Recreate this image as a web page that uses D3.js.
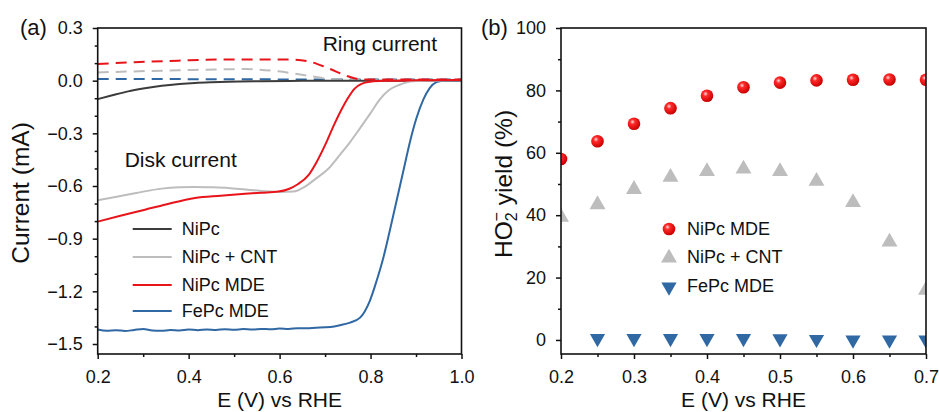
<!DOCTYPE html>
<html>
<head>
<meta charset="utf-8">
<script src="https://cdn.jsdelivr.net/npm/d3@7"></script>
<style>
  html, body { margin: 0; padding: 0; background: #fff; }
  text { font-family: "Liberation Sans", Arial, sans-serif; fill: #111; }
</style>
</head>
<body>
<svg id="chart" width="939" height="412"></svg>
<script>
// ---- panel (a): RRDE disk / ring currents, [E (V), I (mA)] ----
var niPcDisk = [[0.2,-0.105],[0.23,-0.085],[0.267,-0.061],[0.3,-0.045],[0.341,-0.029],[0.38,-0.019],
  [0.414,-0.013],[0.45,-0.009],[0.487,-0.006],[0.56,-0.003],[0.65,-0.001],[0.8,0],[1.0,0]];
var cntDisk = [[0.2,-0.681],[0.233,-0.665],[0.267,-0.649],[0.3,-0.632],[0.341,-0.615],[0.38,-0.607],
  [0.414,-0.605],[0.45,-0.607],[0.487,-0.611],[0.525,-0.62],[0.56,-0.628],[0.6,-0.634],[0.63,-0.632],
  [0.655,-0.605],[0.681,-0.555],[0.706,-0.505],[0.733,-0.421],[0.755,-0.35],[0.777,-0.27],[0.8,-0.185],
  [0.82,-0.108],[0.84,-0.055],[0.864,-0.023],[0.893,-0.003],[0.93,0],[1.0,0.002]];
var mdeDisk = [[0.2,-0.803],[0.25,-0.77],[0.304,-0.735],[0.35,-0.705],[0.414,-0.668],[0.47,-0.655],
  [0.524,-0.644],[0.56,-0.638],[0.597,-0.632],[0.62,-0.617],[0.64,-0.59],[0.663,-0.54],[0.68,-0.47],
  [0.703,-0.35],[0.72,-0.25],[0.735,-0.17],[0.75,-0.1],[0.765,-0.045],[0.78,-0.018],[0.8,-0.006],
  [0.83,-0.001],[0.9,0.002],[1.0,0.004]];
var fePcDisk = [[0.2,-1.418],[0.22,-1.425],[0.24,-1.421],[0.26,-1.426],[0.28,-1.42],[0.3,-1.414],
  [0.32,-1.423],[0.34,-1.425],[0.36,-1.42],[0.38,-1.423],[0.4,-1.418],[0.42,-1.421],[0.44,-1.417],
  [0.46,-1.42],[0.48,-1.416],[0.5,-1.419],[0.52,-1.415],[0.54,-1.418],[0.56,-1.414],[0.58,-1.416],
  [0.6,-1.412],[0.62,-1.414],[0.64,-1.41],[0.66,-1.411],[0.68,-1.407],[0.7,-1.405],[0.72,-1.4],
  [0.733,-1.393],[0.755,-1.378],[0.777,-1.35],[0.798,-1.257],[0.813,-1.143],[0.828,-1.01],[0.842,-0.858],
  [0.857,-0.687],[0.872,-0.516],[0.887,-0.345],[0.901,-0.213],[0.916,-0.108],[0.93,-0.042],
  [0.945,-0.008],[0.96,0],[1.0,0.002]];
var mdeRing = [[0.2,0.095],[0.28,0.105],[0.377,0.114],[0.487,0.121],[0.619,0.121],[0.663,0.11],
  [0.706,0.072],[0.75,0.025],[0.78,0.007],[0.85,0.006],[1.0,0.007]];
var cntRing = [[0.2,0.047],[0.377,0.059],[0.524,0.066],[0.597,0.053],[0.671,0.025],[0.722,0.006],
  [0.8,0.004],[1.0,0.005]];
var fePcRing = [[0.2,0.01],[0.5,0.008],[0.8,0.006],[1.0,0.006]];

// ---- panel (b): HO2- yield (%) ----
var yieldE     = [0.2, 0.25, 0.3, 0.35, 0.4, 0.45, 0.5, 0.55, 0.6, 0.65, 0.7];
var yieldMde   = [58.0, 63.7, 69.3, 74.3, 78.3, 81.0, 82.5, 83.2, 83.4, 83.5, 83.4];
var yieldCnt   = [39.4, 43.4, 48.3, 52.2, 54.0, 54.8, 54.0, 50.9, 44.1, 31.4, 16.0];
var yieldFePc  = [null, 0.5, 0.5, 0.5, 0.5, 0.5, 0.4, 0.2, 0.0, 0.0, 0.0];

// ticks
var aXTicks = [0.2, 0.4, 0.6, 0.8, 1.0], aXMinor = [0.3, 0.5, 0.7, 0.9];
var aYTicks = [0.3, 0.0, -0.3, -0.6, -0.9, -1.2, -1.5];
var aYMinor = [0.2, 0.1, -0.1, -0.2, -0.4, -0.5, -0.7, -0.8, -1.0, -1.1, -1.3, -1.4];
var bXTicks = [0.2, 0.3, 0.4, 0.5, 0.6, 0.7], bXMinor = [0.25, 0.35, 0.45, 0.55, 0.65];
var bYTicks = [0, 20, 40, 60, 80, 100], bYMinor = [10, 30, 50, 70, 90];

var RED = '#e8141a', BLUE = '#2f68a3', GRAY = '#bdbdbd', DARK = '#3c3c3c';

var svg = d3.select('#chart');

// red sphere gradient
var defs = svg.append('defs');
var grad = defs.append('radialGradient').attr('id', 'sphere')
  .attr('cx', '38%').attr('cy', '35%').attr('r', '65%');
grad.append('stop').attr('offset', '0%').attr('stop-color', '#ffe0e0');
grad.append('stop').attr('offset', '30%').attr('stop-color', '#ff2a2a');
grad.append('stop').attr('offset', '100%').attr('stop-color', '#c80000');

// draws the frame + axes of a panel
//- - - - - - - - - - - - - - - - - - - - - -
var drawFrame = function (g, x, y, cfg) {
  var w = x.range()[1], h = y.range()[0];
  g.append('g').attr('transform', 'translate(0,' + h + ')')
    .call(d3.axisBottom(x).tickValues(cfg.xMinor).tickSize(3).tickFormat(''));
  g.append('g').attr('transform', 'translate(0,' + h + ')')
    .call(d3.axisBottom(x).tickValues(cfg.xTicks).tickSize(5).tickPadding(11).tickFormat(cfg.xFmt));
  g.append('g').call(d3.axisLeft(y).tickValues(cfg.yMinor).tickSize(3).tickFormat(''));
  g.append('g').call(d3.axisLeft(y).tickValues(cfg.yTicks).tickSize(5).tickPadding(10).tickFormat(cfg.yFmt));
  g.selectAll('.domain').remove();
  g.selectAll('.tick line').attr('stroke', '#111').attr('stroke-width', 1.5);
  g.selectAll('.tick text').style('font-size', '18px').attr('fill', '#111');
  g.append('rect').attr('width', w).attr('height', h)
    .attr('fill', 'none').attr('stroke', '#111').attr('stroke-width', 1.6);
};

// ================= panel (a) =================
var ga = svg.append('g').attr('transform', 'translate(97.7,28)');
var xa = d3.scaleLinear().domain([0.2, 1.0]).range([0, 363.8]);
var ya = d3.scaleLinear().domain([-1.557, 0.3]).range([326, 0]);

defs.append('clipPath').attr('id', 'clipA').append('rect').attr('width', 363.8).attr('height', 326);

var lineA = d3.line().x(function (d) { return xa(d[0]); }).y(function (d) { return ya(d[1]); })
  .curve(d3.curveMonotoneX);

var plotA = ga.append('g').attr('clip-path', 'url(#clipA)');
var seriesA = [
  { data: fePcRing, color: BLUE, dash: '11,7' },
  { data: cntRing,  color: GRAY, dash: '11,7' },
  { data: niPcDisk, color: DARK },
  { data: fePcDisk, color: BLUE },
  { data: cntDisk,  color: GRAY },
  { data: mdeDisk,  color: RED },
  { data: mdeRing,  color: RED, dash: '11,7' }
];
plotA.selectAll('path.series').data(seriesA).enter().append('path')
  .attr('class', 'series')
  .attr('d', function (d) { return lineA(d.data); })
  .attr('fill', 'none')
  .attr('stroke', function (d) { return d.color; })
  .attr('stroke-width', 2)
  .attr('stroke-dasharray', function (d) { return d.dash || null; });

drawFrame(ga, xa, ya, { xTicks: aXTicks, xMinor: aXMinor, yTicks: aYTicks, yMinor: aYMinor,
  xFmt: d3.format('.1f'), yFmt: d3.format('.1f') });

ga.append('text').attr('x', 225).attr('y', 23).style('font-size', '21px').text('Ring current');
ga.append('text').attr('x', 27).attr('y', 139).style('font-size', '21px').text('Disk current');

var legA = [
  { name: 'NiPc', color: DARK }, { name: 'NiPc + CNT', color: GRAY },
  { name: 'NiPc MDE', color: RED }, { name: 'FePc MDE', color: BLUE }
];
var legRowsA = [201, 229, 257, 283];
var la = ga.selectAll('g.leg').data(legA).enter().append('g').attr('class', 'leg')
  .attr('transform', function (d, i) { return 'translate(35,' + legRowsA[i] + ')'; });
la.append('line').attr('x1', 0).attr('x2', 39).attr('stroke', function (d) { return d.color; })
  .attr('stroke-width', 2);
la.append('text').attr('x', 49).attr('dy', '0.35em').style('font-size', '18px')
  .text(function (d) { return d.name; });

svg.append('text').attr('x', 20).attr('y', 35).style('font-size', '22px').text('(a)');
svg.append('text').attr('x', 279.6).attr('y', 407).attr('text-anchor', 'middle')
  .style('font-size', '21px').text('E (V) vs RHE');
svg.append('text').attr('transform', 'translate(29,193) rotate(-90)').attr('text-anchor', 'middle')
  .style('font-size', '24.5px').text('Current (mA)');

// ================= panel (b) =================
var gb = svg.append('g').attr('transform', 'translate(561,28)');
var xb = d3.scaleLinear().domain([0.2, 0.7]).range([0, 365]);
var yb = d3.scaleLinear().domain([-4.5, 100]).range([326, 0]);

defs.append('clipPath').attr('id', 'clipB').append('rect').attr('width', 365).attr('height', 326);
var plotB = gb.append('g').attr('clip-path', 'url(#clipB)');

var triUp = d3.symbol().type(d3.symbolTriangle).size(110);
var triDown = d3.symbol().type(d3.symbolTriangle).size(100);

var ptsCnt = yieldE.map(function (e, i) { return [e, yieldCnt[i]]; });
var ptsMde = yieldE.map(function (e, i) { return [e, yieldMde[i]]; });
var ptsFe = yieldE.map(function (e, i) { return [e, yieldFePc[i]]; })
  .filter(function (d) { return d[1] !== null; });

plotB.selectAll('path.cnt').data(ptsCnt).enter().append('path').attr('class', 'cnt')
  .attr('d', triUp).attr('fill', GRAY)
  .attr('transform', function (d) { return 'translate(' + xb(d[0]) + ',' + yb(d[1]) + ')'; });
plotB.selectAll('path.fe').data(ptsFe).enter().append('path').attr('class', 'fe')
  .attr('d', triDown).attr('fill', BLUE)
  .attr('transform', function (d) { return 'translate(' + xb(d[0]) + ',' + yb(d[1]) + ') rotate(180)'; });
plotB.selectAll('circle.mde').data(ptsMde).enter().append('circle').attr('class', 'mde')
  .attr('cx', function (d) { return xb(d[0]); }).attr('cy', function (d) { return yb(d[1]); })
  .attr('r', 6.3).attr('fill', 'url(#sphere)');

drawFrame(gb, xb, yb, { xTicks: bXTicks, xMinor: bXMinor, yTicks: bYTicks, yMinor: bYMinor,
  xFmt: d3.format('.1f'), yFmt: d3.format('d') });

// legend (b)
var lb = gb.append('g').attr('transform', 'translate(108,0)');
lb.append('circle').attr('cx', 0).attr('cy', 201).attr('r', 6.3).attr('fill', 'url(#sphere)');
lb.append('path').attr('d', triUp).attr('fill', GRAY).attr('transform', 'translate(0,230)');
lb.append('path').attr('d', triDown).attr('fill', BLUE).attr('transform', 'translate(0,259) rotate(180)');
lb.selectAll('text').data(['NiPc MDE', 'NiPc + CNT', 'FePc MDE']).enter().append('text')
  .attr('x', 18).attr('y', function (d, i) { return [201, 229, 258][i]; }).attr('dy', '0.35em')
  .style('font-size', '18px').text(function (d) { return d; });

svg.append('text').attr('x', 481).attr('y', 35).style('font-size', '22px').text('(b)');
svg.append('text').attr('x', 743.5).attr('y', 407).attr('text-anchor', 'middle')
  .style('font-size', '21px').text('E (V) vs RHE');

var yt = svg.append('text').attr('transform', 'translate(512,184) rotate(-90)')
  .attr('text-anchor', 'middle').style('font-size', '24.5px');
yt.append('tspan').text('HO');
yt.append('tspan').attr('dy', 5).style('font-size', '16px').text('2');
yt.append('tspan').attr('dx', -9).attr('dy', -15).style('font-size', '16px').text('\u2212');
yt.append('tspan').attr('dy', 10).text(' yield (%)');
</script>
</body>
</html>
